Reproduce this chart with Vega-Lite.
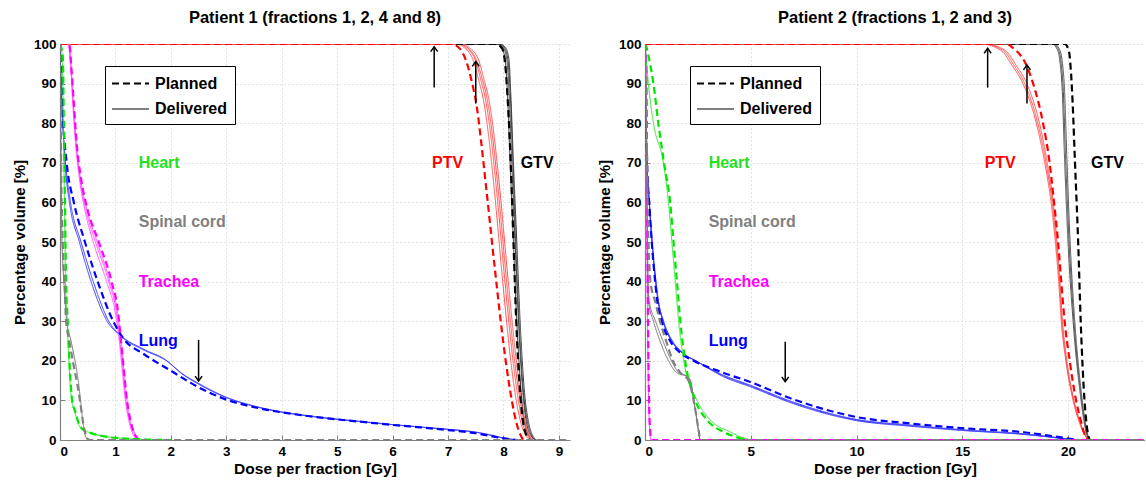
{
"$schema": "https://vega.github.io/schema/vega-lite/v6.json",
"background": "white",
"padding": {"left": 12, "top": 9, "right": 0, "bottom": 0},
"autosize": {"type": "pad"},
"spacing": 27,
"config": {
  "font": "Liberation Sans",
  "view": {"stroke": null},
  "axis": {
    "labelFont": "Liberation Sans", "labelFontSize": 13.5, "labelFontWeight": "bold", "labelColor": "black",
    "titleFont": "Liberation Sans", "titleFontSize": 15.5, "titleFontWeight": "bold", "titleColor": "black",
    "grid": true, "gridColor": "#c8c8c8", "gridDash": [1, 3], "gridWidth": 1,
    "domainColor": "#808080", "domainWidth": 1.2, "tickColor": "#808080", "tickSize": -5, "labelPadding": 9
  },
  "axisY": {"titlePadding": 6, "titleFontSize": 15},
  "axisX": {"titlePadding": 4},
  "title": {"font": "Liberation Sans", "fontSize": 16.5, "fontWeight": "bold", "color": "black", "offset": 11, "anchor": "middle"},
  "legend": {
    "orient": "none", "legendX": 45, "legendY": 22, "direction": "vertical", "title": null,
    "strokeColor": "black", "fillColor": "white", "padding": 7,
    "symbolType": "M-2,0L2,0", "symbolSize": 342, "symbolStrokeColor": "black", "symbolOffset": 8,
    "labelFont": "Liberation Sans", "labelFontSize": 16, "labelFontWeight": "bold", "labelColor": "black",
    "labelOffset": 14, "rowPadding": 7
  }
},
"resolve": {"scale": {"color": "independent", "strokeDash": "independent", "strokeWidth": "independent"}},
"datasets": {
"curves": [
{"panel":1,"organ":"GTV","type":"Delivered","run":"a","dose":0,"vol":100},
{"panel":1,"organ":"GTV","type":"Delivered","run":"a","dose":7.9,"vol":100},
{"panel":1,"organ":"GTV","type":"Delivered","run":"a","dose":8.0,"vol":99},
{"panel":1,"organ":"GTV","type":"Delivered","run":"a","dose":8.06,"vol":96},
{"panel":1,"organ":"GTV","type":"Delivered","run":"a","dose":8.1,"vol":88},
{"panel":1,"organ":"GTV","type":"Delivered","run":"a","dose":8.15,"vol":70},
{"panel":1,"organ":"GTV","type":"Delivered","run":"a","dose":8.21,"vol":50},
{"panel":1,"organ":"GTV","type":"Delivered","run":"a","dose":8.27,"vol":30},
{"panel":1,"organ":"GTV","type":"Delivered","run":"a","dose":8.35,"vol":12},
{"panel":1,"organ":"GTV","type":"Delivered","run":"a","dose":8.42,"vol":4},
{"panel":1,"organ":"GTV","type":"Delivered","run":"a","dose":8.5,"vol":1},
{"panel":1,"organ":"GTV","type":"Delivered","run":"a","dose":8.56,"vol":0},
{"panel":1,"organ":"GTV","type":"Delivered","run":"b","dose":0,"vol":100},
{"panel":1,"organ":"GTV","type":"Delivered","run":"b","dose":7.94,"vol":100},
{"panel":1,"organ":"GTV","type":"Delivered","run":"b","dose":8.04,"vol":99},
{"panel":1,"organ":"GTV","type":"Delivered","run":"b","dose":8.1,"vol":96},
{"panel":1,"organ":"GTV","type":"Delivered","run":"b","dose":8.13,"vol":88},
{"panel":1,"organ":"GTV","type":"Delivered","run":"b","dose":8.18,"vol":70},
{"panel":1,"organ":"GTV","type":"Delivered","run":"b","dose":8.24,"vol":50},
{"panel":1,"organ":"GTV","type":"Delivered","run":"b","dose":8.3,"vol":30},
{"panel":1,"organ":"GTV","type":"Delivered","run":"b","dose":8.38,"vol":12},
{"panel":1,"organ":"GTV","type":"Delivered","run":"b","dose":8.46,"vol":4},
{"panel":1,"organ":"GTV","type":"Delivered","run":"b","dose":8.53,"vol":1},
{"panel":1,"organ":"GTV","type":"Delivered","run":"b","dose":8.6,"vol":0},
{"panel":1,"organ":"GTV","type":"Delivered","run":"c","dose":0,"vol":100},
{"panel":1,"organ":"GTV","type":"Delivered","run":"c","dose":7.87,"vol":100},
{"panel":1,"organ":"GTV","type":"Delivered","run":"c","dose":7.97,"vol":99},
{"panel":1,"organ":"GTV","type":"Delivered","run":"c","dose":8.03,"vol":96},
{"panel":1,"organ":"GTV","type":"Delivered","run":"c","dose":8.07,"vol":88},
{"panel":1,"organ":"GTV","type":"Delivered","run":"c","dose":8.12,"vol":70},
{"panel":1,"organ":"GTV","type":"Delivered","run":"c","dose":8.18,"vol":50},
{"panel":1,"organ":"GTV","type":"Delivered","run":"c","dose":8.24,"vol":30},
{"panel":1,"organ":"GTV","type":"Delivered","run":"c","dose":8.32,"vol":12},
{"panel":1,"organ":"GTV","type":"Delivered","run":"c","dose":8.39,"vol":4},
{"panel":1,"organ":"GTV","type":"Delivered","run":"c","dose":8.46,"vol":1},
{"panel":1,"organ":"GTV","type":"Delivered","run":"c","dose":8.52,"vol":0},
{"panel":1,"organ":"GTV","type":"Delivered","run":"d","dose":0,"vol":100},
{"panel":1,"organ":"GTV","type":"Delivered","run":"d","dose":7.92,"vol":100},
{"panel":1,"organ":"GTV","type":"Delivered","run":"d","dose":8.02,"vol":99},
{"panel":1,"organ":"GTV","type":"Delivered","run":"d","dose":8.08,"vol":96},
{"panel":1,"organ":"GTV","type":"Delivered","run":"d","dose":8.12,"vol":88},
{"panel":1,"organ":"GTV","type":"Delivered","run":"d","dose":8.17,"vol":70},
{"panel":1,"organ":"GTV","type":"Delivered","run":"d","dose":8.22,"vol":50},
{"panel":1,"organ":"GTV","type":"Delivered","run":"d","dose":8.28,"vol":30},
{"panel":1,"organ":"GTV","type":"Delivered","run":"d","dose":8.36,"vol":12},
{"panel":1,"organ":"GTV","type":"Delivered","run":"d","dose":8.44,"vol":4},
{"panel":1,"organ":"GTV","type":"Delivered","run":"d","dose":8.51,"vol":1},
{"panel":1,"organ":"GTV","type":"Delivered","run":"d","dose":8.58,"vol":0},
{"panel":1,"organ":"GTV","type":"Planned","run":"p","dose":0,"vol":100},
{"panel":1,"organ":"GTV","type":"Planned","run":"p","dose":7.85,"vol":100},
{"panel":1,"organ":"GTV","type":"Planned","run":"p","dose":7.97,"vol":99},
{"panel":1,"organ":"GTV","type":"Planned","run":"p","dose":8.03,"vol":95},
{"panel":1,"organ":"GTV","type":"Planned","run":"p","dose":8.08,"vol":85},
{"panel":1,"organ":"GTV","type":"Planned","run":"p","dose":8.13,"vol":70},
{"panel":1,"organ":"GTV","type":"Planned","run":"p","dose":8.18,"vol":50},
{"panel":1,"organ":"GTV","type":"Planned","run":"p","dose":8.23,"vol":30},
{"panel":1,"organ":"GTV","type":"Planned","run":"p","dose":8.3,"vol":12},
{"panel":1,"organ":"GTV","type":"Planned","run":"p","dose":8.36,"vol":4},
{"panel":1,"organ":"GTV","type":"Planned","run":"p","dose":8.42,"vol":1},
{"panel":1,"organ":"GTV","type":"Planned","run":"p","dose":8.47,"vol":0},
{"panel":1,"organ":"Lung","type":"Delivered","run":"a","dose":0,"vol":100},
{"panel":1,"organ":"Lung","type":"Delivered","run":"a","dose":0.02,"vol":90},
{"panel":1,"organ":"Lung","type":"Delivered","run":"a","dose":0.05,"vol":80},
{"panel":1,"organ":"Lung","type":"Delivered","run":"a","dose":0.09,"vol":70},
{"panel":1,"organ":"Lung","type":"Delivered","run":"a","dose":0.17,"vol":60},
{"panel":1,"organ":"Lung","type":"Delivered","run":"a","dose":0.35,"vol":50},
{"panel":1,"organ":"Lung","type":"Delivered","run":"a","dose":0.56,"vol":40},
{"panel":1,"organ":"Lung","type":"Delivered","run":"a","dose":0.85,"vol":30},
{"panel":1,"organ":"Lung","type":"Delivered","run":"a","dose":1.1,"vol":26.3},
{"panel":1,"organ":"Lung","type":"Delivered","run":"a","dose":1.5,"vol":23},
{"panel":1,"organ":"Lung","type":"Delivered","run":"a","dose":1.9,"vol":20.3},
{"panel":1,"organ":"Lung","type":"Delivered","run":"a","dose":2.2,"vol":16.8},
{"panel":1,"organ":"Lung","type":"Delivered","run":"a","dose":2.5,"vol":14.3},
{"panel":1,"organ":"Lung","type":"Delivered","run":"a","dose":3.0,"vol":10.8},
{"panel":1,"organ":"Lung","type":"Delivered","run":"a","dose":3.5,"vol":8.6},
{"panel":1,"organ":"Lung","type":"Delivered","run":"a","dose":4.0,"vol":7.1},
{"panel":1,"organ":"Lung","type":"Delivered","run":"a","dose":4.5,"vol":6.1},
{"panel":1,"organ":"Lung","type":"Delivered","run":"a","dose":5.0,"vol":5.3},
{"panel":1,"organ":"Lung","type":"Delivered","run":"a","dose":5.5,"vol":4.6},
{"panel":1,"organ":"Lung","type":"Delivered","run":"a","dose":6.0,"vol":3.9},
{"panel":1,"organ":"Lung","type":"Delivered","run":"a","dose":6.5,"vol":3.3},
{"panel":1,"organ":"Lung","type":"Delivered","run":"a","dose":7.0,"vol":2.7},
{"panel":1,"organ":"Lung","type":"Delivered","run":"a","dose":7.5,"vol":2.0},
{"panel":1,"organ":"Lung","type":"Delivered","run":"a","dose":7.8,"vol":1.2},
{"panel":1,"organ":"Lung","type":"Delivered","run":"a","dose":8.0,"vol":0.5},
{"panel":1,"organ":"Lung","type":"Delivered","run":"a","dose":8.2,"vol":0.1},
{"panel":1,"organ":"Lung","type":"Delivered","run":"a","dose":8.3,"vol":0},
{"panel":1,"organ":"Lung","type":"Delivered","run":"b","dose":0,"vol":100},
{"panel":1,"organ":"Lung","type":"Delivered","run":"b","dose":0.02,"vol":90},
{"panel":1,"organ":"Lung","type":"Delivered","run":"b","dose":0.05,"vol":80},
{"panel":1,"organ":"Lung","type":"Delivered","run":"b","dose":0.1,"vol":70},
{"panel":1,"organ":"Lung","type":"Delivered","run":"b","dose":0.19,"vol":60},
{"panel":1,"organ":"Lung","type":"Delivered","run":"b","dose":0.38,"vol":50},
{"panel":1,"organ":"Lung","type":"Delivered","run":"b","dose":0.6,"vol":40},
{"panel":1,"organ":"Lung","type":"Delivered","run":"b","dose":0.88,"vol":30},
{"panel":1,"organ":"Lung","type":"Delivered","run":"b","dose":1.12,"vol":26},
{"panel":1,"organ":"Lung","type":"Delivered","run":"b","dose":1.5,"vol":22.8},
{"panel":1,"organ":"Lung","type":"Delivered","run":"b","dose":1.92,"vol":20},
{"panel":1,"organ":"Lung","type":"Delivered","run":"b","dose":2.22,"vol":16.5},
{"panel":1,"organ":"Lung","type":"Delivered","run":"b","dose":2.5,"vol":14.1},
{"panel":1,"organ":"Lung","type":"Delivered","run":"b","dose":3.0,"vol":10.7},
{"panel":1,"organ":"Lung","type":"Delivered","run":"b","dose":3.5,"vol":8.5},
{"panel":1,"organ":"Lung","type":"Delivered","run":"b","dose":4.0,"vol":7.0},
{"panel":1,"organ":"Lung","type":"Delivered","run":"b","dose":4.5,"vol":6.0},
{"panel":1,"organ":"Lung","type":"Delivered","run":"b","dose":5.0,"vol":5.2},
{"panel":1,"organ":"Lung","type":"Delivered","run":"b","dose":5.5,"vol":4.5},
{"panel":1,"organ":"Lung","type":"Delivered","run":"b","dose":6.0,"vol":3.85},
{"panel":1,"organ":"Lung","type":"Delivered","run":"b","dose":6.5,"vol":3.25},
{"panel":1,"organ":"Lung","type":"Delivered","run":"b","dose":7.0,"vol":2.65},
{"panel":1,"organ":"Lung","type":"Delivered","run":"b","dose":7.5,"vol":1.95},
{"panel":1,"organ":"Lung","type":"Delivered","run":"b","dose":7.8,"vol":1.1},
{"panel":1,"organ":"Lung","type":"Delivered","run":"b","dose":8.0,"vol":0.45},
{"panel":1,"organ":"Lung","type":"Delivered","run":"b","dose":8.2,"vol":0.1},
{"panel":1,"organ":"Lung","type":"Delivered","run":"b","dose":8.3,"vol":0},
{"panel":1,"organ":"Lung","type":"Planned","run":"p","dose":0,"vol":100},
{"panel":1,"organ":"Lung","type":"Planned","run":"p","dose":0.03,"vol":90},
{"panel":1,"organ":"Lung","type":"Planned","run":"p","dose":0.06,"vol":80},
{"panel":1,"organ":"Lung","type":"Planned","run":"p","dose":0.12,"vol":70},
{"panel":1,"organ":"Lung","type":"Planned","run":"p","dose":0.25,"vol":60},
{"panel":1,"organ":"Lung","type":"Planned","run":"p","dose":0.45,"vol":50},
{"panel":1,"organ":"Lung","type":"Planned","run":"p","dose":0.68,"vol":40},
{"panel":1,"organ":"Lung","type":"Planned","run":"p","dose":0.96,"vol":30},
{"panel":1,"organ":"Lung","type":"Planned","run":"p","dose":1.15,"vol":25.5},
{"panel":1,"organ":"Lung","type":"Planned","run":"p","dose":1.5,"vol":21.8},
{"panel":1,"organ":"Lung","type":"Planned","run":"p","dose":2.0,"vol":17.5},
{"panel":1,"organ":"Lung","type":"Planned","run":"p","dose":2.5,"vol":13.3},
{"panel":1,"organ":"Lung","type":"Planned","run":"p","dose":3.0,"vol":10.2},
{"panel":1,"organ":"Lung","type":"Planned","run":"p","dose":3.5,"vol":8.3},
{"panel":1,"organ":"Lung","type":"Planned","run":"p","dose":4.0,"vol":7.0},
{"panel":1,"organ":"Lung","type":"Planned","run":"p","dose":4.5,"vol":6.0},
{"panel":1,"organ":"Lung","type":"Planned","run":"p","dose":5.0,"vol":5.2},
{"panel":1,"organ":"Lung","type":"Planned","run":"p","dose":5.5,"vol":4.5},
{"panel":1,"organ":"Lung","type":"Planned","run":"p","dose":6.0,"vol":3.8},
{"panel":1,"organ":"Lung","type":"Planned","run":"p","dose":6.5,"vol":3.2},
{"panel":1,"organ":"Lung","type":"Planned","run":"p","dose":7.0,"vol":2.5},
{"panel":1,"organ":"Lung","type":"Planned","run":"p","dose":7.5,"vol":1.7},
{"panel":1,"organ":"Lung","type":"Planned","run":"p","dose":7.8,"vol":0.9},
{"panel":1,"organ":"Lung","type":"Planned","run":"p","dose":8.0,"vol":0.4},
{"panel":1,"organ":"Lung","type":"Planned","run":"p","dose":8.25,"vol":0},
{"panel":1,"organ":"Trachea","type":"Delivered","run":"a","dose":0,"vol":100},
{"panel":1,"organ":"Trachea","type":"Delivered","run":"a","dose":0.15,"vol":100},
{"panel":1,"organ":"Trachea","type":"Delivered","run":"a","dose":0.19,"vol":95},
{"panel":1,"organ":"Trachea","type":"Delivered","run":"a","dose":0.24,"vol":85},
{"panel":1,"organ":"Trachea","type":"Delivered","run":"a","dose":0.29,"vol":75},
{"panel":1,"organ":"Trachea","type":"Delivered","run":"a","dose":0.36,"vol":66},
{"panel":1,"organ":"Trachea","type":"Delivered","run":"a","dose":0.47,"vol":58},
{"panel":1,"organ":"Trachea","type":"Delivered","run":"a","dose":0.64,"vol":50},
{"panel":1,"organ":"Trachea","type":"Delivered","run":"a","dose":0.88,"vol":40},
{"panel":1,"organ":"Trachea","type":"Delivered","run":"a","dose":1.02,"vol":32},
{"panel":1,"organ":"Trachea","type":"Delivered","run":"a","dose":1.08,"vol":25},
{"panel":1,"organ":"Trachea","type":"Delivered","run":"a","dose":1.13,"vol":18},
{"panel":1,"organ":"Trachea","type":"Delivered","run":"a","dose":1.18,"vol":11},
{"panel":1,"organ":"Trachea","type":"Delivered","run":"a","dose":1.25,"vol":5},
{"panel":1,"organ":"Trachea","type":"Delivered","run":"a","dose":1.32,"vol":2},
{"panel":1,"organ":"Trachea","type":"Delivered","run":"a","dose":1.42,"vol":0},
{"panel":1,"organ":"Trachea","type":"Delivered","run":"b","dose":0,"vol":100},
{"panel":1,"organ":"Trachea","type":"Delivered","run":"b","dose":0.15,"vol":100},
{"panel":1,"organ":"Trachea","type":"Delivered","run":"b","dose":0.19,"vol":95},
{"panel":1,"organ":"Trachea","type":"Delivered","run":"b","dose":0.23,"vol":85},
{"panel":1,"organ":"Trachea","type":"Delivered","run":"b","dose":0.28,"vol":75},
{"panel":1,"organ":"Trachea","type":"Delivered","run":"b","dose":0.35,"vol":66},
{"panel":1,"organ":"Trachea","type":"Delivered","run":"b","dose":0.45,"vol":58},
{"panel":1,"organ":"Trachea","type":"Delivered","run":"b","dose":0.6,"vol":50},
{"panel":1,"organ":"Trachea","type":"Delivered","run":"b","dose":0.84,"vol":40},
{"panel":1,"organ":"Trachea","type":"Delivered","run":"b","dose":1.0,"vol":32},
{"panel":1,"organ":"Trachea","type":"Delivered","run":"b","dose":1.07,"vol":25},
{"panel":1,"organ":"Trachea","type":"Delivered","run":"b","dose":1.12,"vol":18},
{"panel":1,"organ":"Trachea","type":"Delivered","run":"b","dose":1.17,"vol":11},
{"panel":1,"organ":"Trachea","type":"Delivered","run":"b","dose":1.24,"vol":5},
{"panel":1,"organ":"Trachea","type":"Delivered","run":"b","dose":1.3,"vol":2},
{"panel":1,"organ":"Trachea","type":"Delivered","run":"b","dose":1.38,"vol":0},
{"panel":1,"organ":"Trachea","type":"Delivered","run":"c","dose":0,"vol":100},
{"panel":1,"organ":"Trachea","type":"Delivered","run":"c","dose":0.16,"vol":100},
{"panel":1,"organ":"Trachea","type":"Delivered","run":"c","dose":0.2,"vol":95},
{"panel":1,"organ":"Trachea","type":"Delivered","run":"c","dose":0.24,"vol":85},
{"panel":1,"organ":"Trachea","type":"Delivered","run":"c","dose":0.29,"vol":75},
{"panel":1,"organ":"Trachea","type":"Delivered","run":"c","dose":0.37,"vol":66},
{"panel":1,"organ":"Trachea","type":"Delivered","run":"c","dose":0.49,"vol":58},
{"panel":1,"organ":"Trachea","type":"Delivered","run":"c","dose":0.67,"vol":50},
{"panel":1,"organ":"Trachea","type":"Delivered","run":"c","dose":0.9,"vol":40},
{"panel":1,"organ":"Trachea","type":"Delivered","run":"c","dose":1.04,"vol":32},
{"panel":1,"organ":"Trachea","type":"Delivered","run":"c","dose":1.1,"vol":25},
{"panel":1,"organ":"Trachea","type":"Delivered","run":"c","dose":1.15,"vol":18},
{"panel":1,"organ":"Trachea","type":"Delivered","run":"c","dose":1.2,"vol":11},
{"panel":1,"organ":"Trachea","type":"Delivered","run":"c","dose":1.27,"vol":5},
{"panel":1,"organ":"Trachea","type":"Delivered","run":"c","dose":1.34,"vol":2},
{"panel":1,"organ":"Trachea","type":"Delivered","run":"c","dose":1.44,"vol":0},
{"panel":1,"organ":"Trachea","type":"Planned","run":"p","dose":0,"vol":100},
{"panel":1,"organ":"Trachea","type":"Planned","run":"p","dose":0.17,"vol":100},
{"panel":1,"organ":"Trachea","type":"Planned","run":"p","dose":0.2,"vol":95},
{"panel":1,"organ":"Trachea","type":"Planned","run":"p","dose":0.25,"vol":85},
{"panel":1,"organ":"Trachea","type":"Planned","run":"p","dose":0.3,"vol":75},
{"panel":1,"organ":"Trachea","type":"Planned","run":"p","dose":0.38,"vol":66},
{"panel":1,"organ":"Trachea","type":"Planned","run":"p","dose":0.5,"vol":58},
{"panel":1,"organ":"Trachea","type":"Planned","run":"p","dose":0.7,"vol":50},
{"panel":1,"organ":"Trachea","type":"Planned","run":"p","dose":0.93,"vol":40},
{"panel":1,"organ":"Trachea","type":"Planned","run":"p","dose":1.05,"vol":32},
{"panel":1,"organ":"Trachea","type":"Planned","run":"p","dose":1.1,"vol":25},
{"panel":1,"organ":"Trachea","type":"Planned","run":"p","dose":1.15,"vol":18},
{"panel":1,"organ":"Trachea","type":"Planned","run":"p","dose":1.2,"vol":11},
{"panel":1,"organ":"Trachea","type":"Planned","run":"p","dose":1.27,"vol":5},
{"panel":1,"organ":"Trachea","type":"Planned","run":"p","dose":1.33,"vol":2},
{"panel":1,"organ":"Trachea","type":"Planned","run":"p","dose":1.42,"vol":0},
{"panel":1,"organ":"Heart","type":"Delivered","run":"a","dose":0,"vol":100},
{"panel":1,"organ":"Heart","type":"Delivered","run":"a","dose":0.04,"vol":97},
{"panel":1,"organ":"Heart","type":"Delivered","run":"a","dose":0.06,"vol":80},
{"panel":1,"organ":"Heart","type":"Delivered","run":"a","dose":0.08,"vol":60},
{"panel":1,"organ":"Heart","type":"Delivered","run":"a","dose":0.1,"vol":40},
{"panel":1,"organ":"Heart","type":"Delivered","run":"a","dose":0.13,"vol":30},
{"panel":1,"organ":"Heart","type":"Delivered","run":"a","dose":0.16,"vol":20},
{"panel":1,"organ":"Heart","type":"Delivered","run":"a","dose":0.21,"vol":10},
{"panel":1,"organ":"Heart","type":"Delivered","run":"a","dose":0.27,"vol":7},
{"panel":1,"organ":"Heart","type":"Delivered","run":"a","dose":0.32,"vol":4.5},
{"panel":1,"organ":"Heart","type":"Delivered","run":"a","dose":0.39,"vol":2.8},
{"panel":1,"organ":"Heart","type":"Delivered","run":"a","dose":0.55,"vol":1.8},
{"panel":1,"organ":"Heart","type":"Delivered","run":"a","dose":0.8,"vol":0.9},
{"panel":1,"organ":"Heart","type":"Delivered","run":"a","dose":1.2,"vol":0.35},
{"panel":1,"organ":"Heart","type":"Delivered","run":"a","dose":1.6,"vol":0.1},
{"panel":1,"organ":"Heart","type":"Delivered","run":"a","dose":2.0,"vol":0},
{"panel":1,"organ":"Heart","type":"Planned","run":"p","dose":0,"vol":100},
{"panel":1,"organ":"Heart","type":"Planned","run":"p","dose":0.05,"vol":97},
{"panel":1,"organ":"Heart","type":"Planned","run":"p","dose":0.07,"vol":80},
{"panel":1,"organ":"Heart","type":"Planned","run":"p","dose":0.09,"vol":60},
{"panel":1,"organ":"Heart","type":"Planned","run":"p","dose":0.11,"vol":40},
{"panel":1,"organ":"Heart","type":"Planned","run":"p","dose":0.14,"vol":30},
{"panel":1,"organ":"Heart","type":"Planned","run":"p","dose":0.17,"vol":20},
{"panel":1,"organ":"Heart","type":"Planned","run":"p","dose":0.22,"vol":10},
{"panel":1,"organ":"Heart","type":"Planned","run":"p","dose":0.28,"vol":7},
{"panel":1,"organ":"Heart","type":"Planned","run":"p","dose":0.33,"vol":4.5},
{"panel":1,"organ":"Heart","type":"Planned","run":"p","dose":0.4,"vol":2.8},
{"panel":1,"organ":"Heart","type":"Planned","run":"p","dose":0.55,"vol":1.8},
{"panel":1,"organ":"Heart","type":"Planned","run":"p","dose":0.8,"vol":0.9},
{"panel":1,"organ":"Heart","type":"Planned","run":"p","dose":1.2,"vol":0.35},
{"panel":1,"organ":"Heart","type":"Planned","run":"p","dose":1.6,"vol":0.1},
{"panel":1,"organ":"Heart","type":"Planned","run":"p","dose":2.0,"vol":0},
{"panel":1,"organ":"PTV","type":"Delivered","run":"a","dose":0,"vol":100},
{"panel":1,"organ":"PTV","type":"Delivered","run":"a","dose":7.15,"vol":100},
{"panel":1,"organ":"PTV","type":"Delivered","run":"a","dose":7.3,"vol":99},
{"panel":1,"organ":"PTV","type":"Delivered","run":"a","dose":7.45,"vol":96},
{"panel":1,"organ":"PTV","type":"Delivered","run":"a","dose":7.55,"vol":91},
{"panel":1,"organ":"PTV","type":"Delivered","run":"a","dose":7.65,"vol":85},
{"panel":1,"organ":"PTV","type":"Delivered","run":"a","dose":7.73,"vol":77},
{"panel":1,"organ":"PTV","type":"Delivered","run":"a","dose":7.8,"vol":68},
{"panel":1,"organ":"PTV","type":"Delivered","run":"a","dose":7.87,"vol":58},
{"panel":1,"organ":"PTV","type":"Delivered","run":"a","dose":7.94,"vol":47},
{"panel":1,"organ":"PTV","type":"Delivered","run":"a","dose":8.0,"vol":38},
{"panel":1,"organ":"PTV","type":"Delivered","run":"a","dose":8.07,"vol":28},
{"panel":1,"organ":"PTV","type":"Delivered","run":"a","dose":8.14,"vol":19},
{"panel":1,"organ":"PTV","type":"Delivered","run":"a","dose":8.23,"vol":10},
{"panel":1,"organ":"PTV","type":"Delivered","run":"a","dose":8.32,"vol":4},
{"panel":1,"organ":"PTV","type":"Delivered","run":"a","dose":8.4,"vol":1.2},
{"panel":1,"organ":"PTV","type":"Delivered","run":"a","dose":8.48,"vol":0},
{"panel":1,"organ":"PTV","type":"Delivered","run":"b","dose":0,"vol":100},
{"panel":1,"organ":"PTV","type":"Delivered","run":"b","dose":7.2,"vol":100},
{"panel":1,"organ":"PTV","type":"Delivered","run":"b","dose":7.36,"vol":99},
{"panel":1,"organ":"PTV","type":"Delivered","run":"b","dose":7.51,"vol":96},
{"panel":1,"organ":"PTV","type":"Delivered","run":"b","dose":7.62,"vol":91},
{"panel":1,"organ":"PTV","type":"Delivered","run":"b","dose":7.72,"vol":85},
{"panel":1,"organ":"PTV","type":"Delivered","run":"b","dose":7.8,"vol":77},
{"panel":1,"organ":"PTV","type":"Delivered","run":"b","dose":7.87,"vol":68},
{"panel":1,"organ":"PTV","type":"Delivered","run":"b","dose":7.94,"vol":58},
{"panel":1,"organ":"PTV","type":"Delivered","run":"b","dose":8.01,"vol":47},
{"panel":1,"organ":"PTV","type":"Delivered","run":"b","dose":8.07,"vol":38},
{"panel":1,"organ":"PTV","type":"Delivered","run":"b","dose":8.14,"vol":28},
{"panel":1,"organ":"PTV","type":"Delivered","run":"b","dose":8.21,"vol":19},
{"panel":1,"organ":"PTV","type":"Delivered","run":"b","dose":8.3,"vol":10},
{"panel":1,"organ":"PTV","type":"Delivered","run":"b","dose":8.38,"vol":4},
{"panel":1,"organ":"PTV","type":"Delivered","run":"b","dose":8.45,"vol":1.2},
{"panel":1,"organ":"PTV","type":"Delivered","run":"b","dose":8.52,"vol":0},
{"panel":1,"organ":"PTV","type":"Delivered","run":"c","dose":0,"vol":100},
{"panel":1,"organ":"PTV","type":"Delivered","run":"c","dose":7.22,"vol":100},
{"panel":1,"organ":"PTV","type":"Delivered","run":"c","dose":7.39,"vol":99},
{"panel":1,"organ":"PTV","type":"Delivered","run":"c","dose":7.55,"vol":96},
{"panel":1,"organ":"PTV","type":"Delivered","run":"c","dose":7.65,"vol":91},
{"panel":1,"organ":"PTV","type":"Delivered","run":"c","dose":7.75,"vol":85},
{"panel":1,"organ":"PTV","type":"Delivered","run":"c","dose":7.83,"vol":77},
{"panel":1,"organ":"PTV","type":"Delivered","run":"c","dose":7.9,"vol":68},
{"panel":1,"organ":"PTV","type":"Delivered","run":"c","dose":7.97,"vol":58},
{"panel":1,"organ":"PTV","type":"Delivered","run":"c","dose":8.04,"vol":47},
{"panel":1,"organ":"PTV","type":"Delivered","run":"c","dose":8.1,"vol":38},
{"panel":1,"organ":"PTV","type":"Delivered","run":"c","dose":8.17,"vol":28},
{"panel":1,"organ":"PTV","type":"Delivered","run":"c","dose":8.24,"vol":19},
{"panel":1,"organ":"PTV","type":"Delivered","run":"c","dose":8.32,"vol":10},
{"panel":1,"organ":"PTV","type":"Delivered","run":"c","dose":8.4,"vol":4},
{"panel":1,"organ":"PTV","type":"Delivered","run":"c","dose":8.47,"vol":1.2},
{"panel":1,"organ":"PTV","type":"Delivered","run":"c","dose":8.54,"vol":0},
{"panel":1,"organ":"PTV","type":"Delivered","run":"d","dose":0,"vol":100},
{"panel":1,"organ":"PTV","type":"Delivered","run":"d","dose":7.18,"vol":100},
{"panel":1,"organ":"PTV","type":"Delivered","run":"d","dose":7.33,"vol":99},
{"panel":1,"organ":"PTV","type":"Delivered","run":"d","dose":7.49,"vol":96},
{"panel":1,"organ":"PTV","type":"Delivered","run":"d","dose":7.59,"vol":91},
{"panel":1,"organ":"PTV","type":"Delivered","run":"d","dose":7.69,"vol":85},
{"panel":1,"organ":"PTV","type":"Delivered","run":"d","dose":7.77,"vol":77},
{"panel":1,"organ":"PTV","type":"Delivered","run":"d","dose":7.84,"vol":68},
{"panel":1,"organ":"PTV","type":"Delivered","run":"d","dose":7.91,"vol":58},
{"panel":1,"organ":"PTV","type":"Delivered","run":"d","dose":7.98,"vol":47},
{"panel":1,"organ":"PTV","type":"Delivered","run":"d","dose":8.04,"vol":38},
{"panel":1,"organ":"PTV","type":"Delivered","run":"d","dose":8.11,"vol":28},
{"panel":1,"organ":"PTV","type":"Delivered","run":"d","dose":8.18,"vol":19},
{"panel":1,"organ":"PTV","type":"Delivered","run":"d","dose":8.27,"vol":10},
{"panel":1,"organ":"PTV","type":"Delivered","run":"d","dose":8.35,"vol":4},
{"panel":1,"organ":"PTV","type":"Delivered","run":"d","dose":8.43,"vol":1.2},
{"panel":1,"organ":"PTV","type":"Delivered","run":"d","dose":8.5,"vol":0},
{"panel":1,"organ":"PTV","type":"Planned","run":"p","dose":0,"vol":100},
{"panel":1,"organ":"PTV","type":"Planned","run":"p","dose":7.05,"vol":100},
{"panel":1,"organ":"PTV","type":"Planned","run":"p","dose":7.2,"vol":99},
{"panel":1,"organ":"PTV","type":"Planned","run":"p","dose":7.32,"vol":96},
{"panel":1,"organ":"PTV","type":"Planned","run":"p","dose":7.42,"vol":91},
{"panel":1,"organ":"PTV","type":"Planned","run":"p","dose":7.52,"vol":84},
{"panel":1,"organ":"PTV","type":"Planned","run":"p","dose":7.6,"vol":75},
{"panel":1,"organ":"PTV","type":"Planned","run":"p","dose":7.67,"vol":66},
{"panel":1,"organ":"PTV","type":"Planned","run":"p","dose":7.74,"vol":57},
{"panel":1,"organ":"PTV","type":"Planned","run":"p","dose":7.8,"vol":49},
{"panel":1,"organ":"PTV","type":"Planned","run":"p","dose":7.87,"vol":40},
{"panel":1,"organ":"PTV","type":"Planned","run":"p","dose":7.95,"vol":30},
{"panel":1,"organ":"PTV","type":"Planned","run":"p","dose":8.04,"vol":20},
{"panel":1,"organ":"PTV","type":"Planned","run":"p","dose":8.15,"vol":10},
{"panel":1,"organ":"PTV","type":"Planned","run":"p","dose":8.24,"vol":4},
{"panel":1,"organ":"PTV","type":"Planned","run":"p","dose":8.3,"vol":1.5},
{"panel":1,"organ":"PTV","type":"Planned","run":"p","dose":8.36,"vol":0},
{"panel":1,"organ":"Spinal cord","type":"Delivered","run":"a","dose":0,"vol":100},
{"panel":1,"organ":"Spinal cord","type":"Delivered","run":"a","dose":0.01,"vol":90},
{"panel":1,"organ":"Spinal cord","type":"Delivered","run":"a","dose":0.02,"vol":70},
{"panel":1,"organ":"Spinal cord","type":"Delivered","run":"a","dose":0.03,"vol":55},
{"panel":1,"organ":"Spinal cord","type":"Delivered","run":"a","dose":0.05,"vol":45},
{"panel":1,"organ":"Spinal cord","type":"Delivered","run":"a","dose":0.07,"vol":40},
{"panel":1,"organ":"Spinal cord","type":"Delivered","run":"a","dose":0.12,"vol":30},
{"panel":1,"organ":"Spinal cord","type":"Delivered","run":"a","dose":0.2,"vol":25},
{"panel":1,"organ":"Spinal cord","type":"Delivered","run":"a","dose":0.27,"vol":20},
{"panel":1,"organ":"Spinal cord","type":"Delivered","run":"a","dose":0.33,"vol":15},
{"panel":1,"organ":"Spinal cord","type":"Delivered","run":"a","dose":0.37,"vol":10},
{"panel":1,"organ":"Spinal cord","type":"Delivered","run":"a","dose":0.41,"vol":5},
{"panel":1,"organ":"Spinal cord","type":"Delivered","run":"a","dose":0.44,"vol":2},
{"panel":1,"organ":"Spinal cord","type":"Delivered","run":"a","dose":0.5,"vol":0},
{"panel":1,"organ":"Spinal cord","type":"Planned","run":"p","dose":0,"vol":100},
{"panel":1,"organ":"Spinal cord","type":"Planned","run":"p","dose":0.01,"vol":90},
{"panel":1,"organ":"Spinal cord","type":"Planned","run":"p","dose":0.02,"vol":70},
{"panel":1,"organ":"Spinal cord","type":"Planned","run":"p","dose":0.04,"vol":55},
{"panel":1,"organ":"Spinal cord","type":"Planned","run":"p","dose":0.06,"vol":45},
{"panel":1,"organ":"Spinal cord","type":"Planned","run":"p","dose":0.08,"vol":40},
{"panel":1,"organ":"Spinal cord","type":"Planned","run":"p","dose":0.11,"vol":30},
{"panel":1,"organ":"Spinal cord","type":"Planned","run":"p","dose":0.17,"vol":25},
{"panel":1,"organ":"Spinal cord","type":"Planned","run":"p","dose":0.23,"vol":20},
{"panel":1,"organ":"Spinal cord","type":"Planned","run":"p","dose":0.3,"vol":15},
{"panel":1,"organ":"Spinal cord","type":"Planned","run":"p","dose":0.36,"vol":10},
{"panel":1,"organ":"Spinal cord","type":"Planned","run":"p","dose":0.41,"vol":5},
{"panel":1,"organ":"Spinal cord","type":"Planned","run":"p","dose":0.45,"vol":2},
{"panel":1,"organ":"Spinal cord","type":"Planned","run":"p","dose":0.53,"vol":0},
{"panel":1,"organ":"Spinal cord","type":"Planned","run":"p","dose":9.2,"vol":0},
{"panel":2,"organ":"GTV","type":"Delivered","run":"a","dose":0,"vol":100},
{"panel":2,"organ":"GTV","type":"Delivered","run":"a","dose":19.3,"vol":100},
{"panel":2,"organ":"GTV","type":"Delivered","run":"a","dose":19.55,"vol":98.5},
{"panel":2,"organ":"GTV","type":"Delivered","run":"a","dose":19.68,"vol":95},
{"panel":2,"organ":"GTV","type":"Delivered","run":"a","dose":19.78,"vol":88},
{"panel":2,"organ":"GTV","type":"Delivered","run":"a","dose":19.88,"vol":72},
{"panel":2,"organ":"GTV","type":"Delivered","run":"a","dose":20.05,"vol":50},
{"panel":2,"organ":"GTV","type":"Delivered","run":"a","dose":20.28,"vol":30},
{"panel":2,"organ":"GTV","type":"Delivered","run":"a","dose":20.6,"vol":12},
{"panel":2,"organ":"GTV","type":"Delivered","run":"a","dose":20.8,"vol":4},
{"panel":2,"organ":"GTV","type":"Delivered","run":"a","dose":20.92,"vol":1},
{"panel":2,"organ":"GTV","type":"Delivered","run":"a","dose":21.03,"vol":0},
{"panel":2,"organ":"GTV","type":"Delivered","run":"b","dose":0,"vol":100},
{"panel":2,"organ":"GTV","type":"Delivered","run":"b","dose":19.36,"vol":100},
{"panel":2,"organ":"GTV","type":"Delivered","run":"b","dose":19.61,"vol":98.5},
{"panel":2,"organ":"GTV","type":"Delivered","run":"b","dose":19.74,"vol":95},
{"panel":2,"organ":"GTV","type":"Delivered","run":"b","dose":19.84,"vol":88},
{"panel":2,"organ":"GTV","type":"Delivered","run":"b","dose":19.94,"vol":72},
{"panel":2,"organ":"GTV","type":"Delivered","run":"b","dose":20.1,"vol":50},
{"panel":2,"organ":"GTV","type":"Delivered","run":"b","dose":20.32,"vol":30},
{"panel":2,"organ":"GTV","type":"Delivered","run":"b","dose":20.63,"vol":12},
{"panel":2,"organ":"GTV","type":"Delivered","run":"b","dose":20.83,"vol":4},
{"panel":2,"organ":"GTV","type":"Delivered","run":"b","dose":20.95,"vol":1},
{"panel":2,"organ":"GTV","type":"Delivered","run":"b","dose":21.06,"vol":0},
{"panel":2,"organ":"GTV","type":"Delivered","run":"c","dose":0,"vol":100},
{"panel":2,"organ":"GTV","type":"Delivered","run":"c","dose":19.25,"vol":100},
{"panel":2,"organ":"GTV","type":"Delivered","run":"c","dose":19.5,"vol":98.5},
{"panel":2,"organ":"GTV","type":"Delivered","run":"c","dose":19.63,"vol":95},
{"panel":2,"organ":"GTV","type":"Delivered","run":"c","dose":19.73,"vol":88},
{"panel":2,"organ":"GTV","type":"Delivered","run":"c","dose":19.83,"vol":72},
{"panel":2,"organ":"GTV","type":"Delivered","run":"c","dose":20.0,"vol":50},
{"panel":2,"organ":"GTV","type":"Delivered","run":"c","dose":20.24,"vol":30},
{"panel":2,"organ":"GTV","type":"Delivered","run":"c","dose":20.57,"vol":12},
{"panel":2,"organ":"GTV","type":"Delivered","run":"c","dose":20.78,"vol":4},
{"panel":2,"organ":"GTV","type":"Delivered","run":"c","dose":20.9,"vol":1},
{"panel":2,"organ":"GTV","type":"Delivered","run":"c","dose":21.0,"vol":0},
{"panel":2,"organ":"GTV","type":"Planned","run":"p","dose":0,"vol":100},
{"panel":2,"organ":"GTV","type":"Planned","run":"p","dose":19.85,"vol":100},
{"panel":2,"organ":"GTV","type":"Planned","run":"p","dose":20.05,"vol":98},
{"panel":2,"organ":"GTV","type":"Planned","run":"p","dose":20.15,"vol":92},
{"panel":2,"organ":"GTV","type":"Planned","run":"p","dose":20.22,"vol":85},
{"panel":2,"organ":"GTV","type":"Planned","run":"p","dose":20.33,"vol":70},
{"panel":2,"organ":"GTV","type":"Planned","run":"p","dose":20.48,"vol":50},
{"panel":2,"organ":"GTV","type":"Planned","run":"p","dose":20.6,"vol":30},
{"panel":2,"organ":"GTV","type":"Planned","run":"p","dose":20.78,"vol":10},
{"panel":2,"organ":"GTV","type":"Planned","run":"p","dose":20.9,"vol":3},
{"panel":2,"organ":"GTV","type":"Planned","run":"p","dose":21.03,"vol":0},
{"panel":2,"organ":"Lung","type":"Delivered","run":"a","dose":0,"vol":100},
{"panel":2,"organ":"Lung","type":"Delivered","run":"a","dose":0.03,"vol":90},
{"panel":2,"organ":"Lung","type":"Delivered","run":"a","dose":0.06,"vol":80},
{"panel":2,"organ":"Lung","type":"Delivered","run":"a","dose":0.1,"vol":70},
{"panel":2,"organ":"Lung","type":"Delivered","run":"a","dose":0.2,"vol":60},
{"panel":2,"organ":"Lung","type":"Delivered","run":"a","dose":0.33,"vol":50},
{"panel":2,"organ":"Lung","type":"Delivered","run":"a","dose":0.5,"vol":40},
{"panel":2,"organ":"Lung","type":"Delivered","run":"a","dose":0.62,"vol":35},
{"panel":2,"organ":"Lung","type":"Delivered","run":"a","dose":0.85,"vol":30},
{"panel":2,"organ":"Lung","type":"Delivered","run":"a","dose":1.25,"vol":25},
{"panel":2,"organ":"Lung","type":"Delivered","run":"a","dose":1.75,"vol":22},
{"panel":2,"organ":"Lung","type":"Delivered","run":"a","dose":2.4,"vol":20},
{"panel":2,"organ":"Lung","type":"Delivered","run":"a","dose":3.7,"vol":16.4},
{"panel":2,"organ":"Lung","type":"Delivered","run":"a","dose":5,"vol":13.8},
{"panel":2,"organ":"Lung","type":"Delivered","run":"a","dose":7,"vol":9.6},
{"panel":2,"organ":"Lung","type":"Delivered","run":"a","dose":10,"vol":5.2},
{"panel":2,"organ":"Lung","type":"Delivered","run":"a","dose":12.5,"vol":3.8},
{"panel":2,"organ":"Lung","type":"Delivered","run":"a","dose":15,"vol":2.6},
{"panel":2,"organ":"Lung","type":"Delivered","run":"a","dose":18,"vol":1.5},
{"panel":2,"organ":"Lung","type":"Delivered","run":"a","dose":19.5,"vol":0.6},
{"panel":2,"organ":"Lung","type":"Delivered","run":"a","dose":20.2,"vol":0.1},
{"panel":2,"organ":"Lung","type":"Delivered","run":"a","dose":20.5,"vol":0},
{"panel":2,"organ":"Lung","type":"Delivered","run":"b","dose":0,"vol":100},
{"panel":2,"organ":"Lung","type":"Delivered","run":"b","dose":0.03,"vol":90},
{"panel":2,"organ":"Lung","type":"Delivered","run":"b","dose":0.06,"vol":80},
{"panel":2,"organ":"Lung","type":"Delivered","run":"b","dose":0.1,"vol":70},
{"panel":2,"organ":"Lung","type":"Delivered","run":"b","dose":0.21,"vol":60},
{"panel":2,"organ":"Lung","type":"Delivered","run":"b","dose":0.34,"vol":50},
{"panel":2,"organ":"Lung","type":"Delivered","run":"b","dose":0.52,"vol":40},
{"panel":2,"organ":"Lung","type":"Delivered","run":"b","dose":0.64,"vol":35},
{"panel":2,"organ":"Lung","type":"Delivered","run":"b","dose":0.88,"vol":30},
{"panel":2,"organ":"Lung","type":"Delivered","run":"b","dose":1.3,"vol":25},
{"panel":2,"organ":"Lung","type":"Delivered","run":"b","dose":1.8,"vol":22},
{"panel":2,"organ":"Lung","type":"Delivered","run":"b","dose":2.5,"vol":19.7},
{"panel":2,"organ":"Lung","type":"Delivered","run":"b","dose":3.7,"vol":16},
{"panel":2,"organ":"Lung","type":"Delivered","run":"b","dose":5,"vol":13.4},
{"panel":2,"organ":"Lung","type":"Delivered","run":"b","dose":7,"vol":9.2},
{"panel":2,"organ":"Lung","type":"Delivered","run":"b","dose":10,"vol":4.9},
{"panel":2,"organ":"Lung","type":"Delivered","run":"b","dose":12.5,"vol":3.5},
{"panel":2,"organ":"Lung","type":"Delivered","run":"b","dose":15,"vol":2.4},
{"panel":2,"organ":"Lung","type":"Delivered","run":"b","dose":18,"vol":1.35},
{"panel":2,"organ":"Lung","type":"Delivered","run":"b","dose":19.5,"vol":0.5},
{"panel":2,"organ":"Lung","type":"Delivered","run":"b","dose":20.2,"vol":0.08},
{"panel":2,"organ":"Lung","type":"Delivered","run":"b","dose":20.5,"vol":0},
{"panel":2,"organ":"Lung","type":"Delivered","run":"c","dose":0,"vol":100},
{"panel":2,"organ":"Lung","type":"Delivered","run":"c","dose":0.03,"vol":90},
{"panel":2,"organ":"Lung","type":"Delivered","run":"c","dose":0.06,"vol":80},
{"panel":2,"organ":"Lung","type":"Delivered","run":"c","dose":0.1,"vol":70},
{"panel":2,"organ":"Lung","type":"Delivered","run":"c","dose":0.2,"vol":60},
{"panel":2,"organ":"Lung","type":"Delivered","run":"c","dose":0.33,"vol":50},
{"panel":2,"organ":"Lung","type":"Delivered","run":"c","dose":0.51,"vol":40},
{"panel":2,"organ":"Lung","type":"Delivered","run":"c","dose":0.63,"vol":35},
{"panel":2,"organ":"Lung","type":"Delivered","run":"c","dose":0.86,"vol":30},
{"panel":2,"organ":"Lung","type":"Delivered","run":"c","dose":1.27,"vol":25},
{"panel":2,"organ":"Lung","type":"Delivered","run":"c","dose":1.77,"vol":22},
{"panel":2,"organ":"Lung","type":"Delivered","run":"c","dose":2.45,"vol":19.85},
{"panel":2,"organ":"Lung","type":"Delivered","run":"c","dose":3.7,"vol":16.2},
{"panel":2,"organ":"Lung","type":"Delivered","run":"c","dose":5,"vol":13.6},
{"panel":2,"organ":"Lung","type":"Delivered","run":"c","dose":7,"vol":9.4},
{"panel":2,"organ":"Lung","type":"Delivered","run":"c","dose":10,"vol":5.05},
{"panel":2,"organ":"Lung","type":"Delivered","run":"c","dose":12.5,"vol":3.65},
{"panel":2,"organ":"Lung","type":"Delivered","run":"c","dose":15,"vol":2.5},
{"panel":2,"organ":"Lung","type":"Delivered","run":"c","dose":18,"vol":1.42},
{"panel":2,"organ":"Lung","type":"Delivered","run":"c","dose":19.5,"vol":0.55},
{"panel":2,"organ":"Lung","type":"Delivered","run":"c","dose":20.2,"vol":0.09},
{"panel":2,"organ":"Lung","type":"Delivered","run":"c","dose":20.5,"vol":0},
{"panel":2,"organ":"Lung","type":"Planned","run":"p","dose":0,"vol":100},
{"panel":2,"organ":"Lung","type":"Planned","run":"p","dose":0.03,"vol":90},
{"panel":2,"organ":"Lung","type":"Planned","run":"p","dose":0.06,"vol":80},
{"panel":2,"organ":"Lung","type":"Planned","run":"p","dose":0.1,"vol":70},
{"panel":2,"organ":"Lung","type":"Planned","run":"p","dose":0.2,"vol":60},
{"panel":2,"organ":"Lung","type":"Planned","run":"p","dose":0.32,"vol":50},
{"panel":2,"organ":"Lung","type":"Planned","run":"p","dose":0.48,"vol":40},
{"panel":2,"organ":"Lung","type":"Planned","run":"p","dose":0.58,"vol":35},
{"panel":2,"organ":"Lung","type":"Planned","run":"p","dose":0.79,"vol":30},
{"panel":2,"organ":"Lung","type":"Planned","run":"p","dose":1.19,"vol":25},
{"panel":2,"organ":"Lung","type":"Planned","run":"p","dose":1.67,"vol":22},
{"panel":2,"organ":"Lung","type":"Planned","run":"p","dose":2.3,"vol":20},
{"panel":2,"organ":"Lung","type":"Planned","run":"p","dose":3.7,"vol":17},
{"panel":2,"organ":"Lung","type":"Planned","run":"p","dose":5,"vol":14.6},
{"panel":2,"organ":"Lung","type":"Planned","run":"p","dose":7,"vol":10.3},
{"panel":2,"organ":"Lung","type":"Planned","run":"p","dose":10,"vol":5.8},
{"panel":2,"organ":"Lung","type":"Planned","run":"p","dose":12.5,"vol":4.2},
{"panel":2,"organ":"Lung","type":"Planned","run":"p","dose":15,"vol":3.0},
{"panel":2,"organ":"Lung","type":"Planned","run":"p","dose":18,"vol":1.9},
{"panel":2,"organ":"Lung","type":"Planned","run":"p","dose":19.5,"vol":0.8},
{"panel":2,"organ":"Lung","type":"Planned","run":"p","dose":20.2,"vol":0.2},
{"panel":2,"organ":"Lung","type":"Planned","run":"p","dose":20.5,"vol":0},
{"panel":2,"organ":"Trachea","type":"Delivered","run":"a","dose":0,"vol":100},
{"panel":2,"organ":"Trachea","type":"Delivered","run":"a","dose":0.04,"vol":97},
{"panel":2,"organ":"Trachea","type":"Delivered","run":"a","dose":0.08,"vol":60},
{"panel":2,"organ":"Trachea","type":"Delivered","run":"a","dose":0.13,"vol":25},
{"panel":2,"organ":"Trachea","type":"Delivered","run":"a","dose":0.18,"vol":8},
{"panel":2,"organ":"Trachea","type":"Delivered","run":"a","dose":0.23,"vol":2},
{"panel":2,"organ":"Trachea","type":"Delivered","run":"a","dose":0.28,"vol":0},
{"panel":2,"organ":"Trachea","type":"Planned","run":"p","dose":0,"vol":100},
{"panel":2,"organ":"Trachea","type":"Planned","run":"p","dose":0.05,"vol":97},
{"panel":2,"organ":"Trachea","type":"Planned","run":"p","dose":0.1,"vol":60},
{"panel":2,"organ":"Trachea","type":"Planned","run":"p","dose":0.15,"vol":25},
{"panel":2,"organ":"Trachea","type":"Planned","run":"p","dose":0.2,"vol":8},
{"panel":2,"organ":"Trachea","type":"Planned","run":"p","dose":0.25,"vol":2},
{"panel":2,"organ":"Trachea","type":"Planned","run":"p","dose":0.3,"vol":0},
{"panel":2,"organ":"Trachea","type":"Planned","run":"p","dose":23.6,"vol":0},
{"panel":2,"organ":"Heart","type":"Delivered","run":"a","dose":0,"vol":100},
{"panel":2,"organ":"Heart","type":"Delivered","run":"a","dose":0.03,"vol":98},
{"panel":2,"organ":"Heart","type":"Delivered","run":"a","dose":0.16,"vol":90},
{"panel":2,"organ":"Heart","type":"Delivered","run":"a","dose":0.4,"vol":80},
{"panel":2,"organ":"Heart","type":"Delivered","run":"a","dose":0.87,"vol":70},
{"panel":2,"organ":"Heart","type":"Delivered","run":"a","dose":1.11,"vol":60},
{"panel":2,"organ":"Heart","type":"Delivered","run":"a","dose":1.27,"vol":50},
{"panel":2,"organ":"Heart","type":"Delivered","run":"a","dose":1.43,"vol":40},
{"panel":2,"organ":"Heart","type":"Delivered","run":"a","dose":1.59,"vol":30},
{"panel":2,"organ":"Heart","type":"Delivered","run":"a","dose":1.83,"vol":20},
{"panel":2,"organ":"Heart","type":"Delivered","run":"a","dose":2.46,"vol":10},
{"panel":2,"organ":"Heart","type":"Delivered","run":"a","dose":3.1,"vol":5},
{"panel":2,"organ":"Heart","type":"Delivered","run":"a","dose":4.05,"vol":2},
{"panel":2,"organ":"Heart","type":"Delivered","run":"a","dose":4.6,"vol":0.6},
{"panel":2,"organ":"Heart","type":"Delivered","run":"a","dose":5.0,"vol":0},
{"panel":2,"organ":"Heart","type":"Planned","run":"p","dose":0,"vol":100},
{"panel":2,"organ":"Heart","type":"Planned","run":"p","dose":0.08,"vol":99},
{"panel":2,"organ":"Heart","type":"Planned","run":"p","dose":0.24,"vol":95},
{"panel":2,"organ":"Heart","type":"Planned","run":"p","dose":0.4,"vol":90},
{"panel":2,"organ":"Heart","type":"Planned","run":"p","dose":0.63,"vol":80},
{"panel":2,"organ":"Heart","type":"Planned","run":"p","dose":0.9,"vol":70},
{"panel":2,"organ":"Heart","type":"Planned","run":"p","dose":1.19,"vol":60},
{"panel":2,"organ":"Heart","type":"Planned","run":"p","dose":1.35,"vol":50},
{"panel":2,"organ":"Heart","type":"Planned","run":"p","dose":1.51,"vol":40},
{"panel":2,"organ":"Heart","type":"Planned","run":"p","dose":1.67,"vol":30},
{"panel":2,"organ":"Heart","type":"Planned","run":"p","dose":1.9,"vol":20},
{"panel":2,"organ":"Heart","type":"Planned","run":"p","dose":2.38,"vol":10},
{"panel":2,"organ":"Heart","type":"Planned","run":"p","dose":2.94,"vol":5},
{"panel":2,"organ":"Heart","type":"Planned","run":"p","dose":3.73,"vol":2},
{"panel":2,"organ":"Heart","type":"Planned","run":"p","dose":4.4,"vol":0.6},
{"panel":2,"organ":"Heart","type":"Planned","run":"p","dose":4.92,"vol":0},
{"panel":2,"organ":"PTV","type":"Delivered","run":"a","dose":0,"vol":100},
{"panel":2,"organ":"PTV","type":"Delivered","run":"a","dose":15.9,"vol":100},
{"panel":2,"organ":"PTV","type":"Delivered","run":"a","dose":16.5,"vol":99.3},
{"panel":2,"organ":"PTV","type":"Delivered","run":"a","dose":17.0,"vol":97.5},
{"panel":2,"organ":"PTV","type":"Delivered","run":"a","dose":17.3,"vol":95},
{"panel":2,"organ":"PTV","type":"Delivered","run":"a","dose":17.87,"vol":90},
{"panel":2,"organ":"PTV","type":"Delivered","run":"a","dose":18.5,"vol":80},
{"panel":2,"organ":"PTV","type":"Delivered","run":"a","dose":18.9,"vol":70},
{"panel":2,"organ":"PTV","type":"Delivered","run":"a","dose":19.2,"vol":60},
{"panel":2,"organ":"PTV","type":"Delivered","run":"a","dose":19.4,"vol":50},
{"panel":2,"organ":"PTV","type":"Delivered","run":"a","dose":19.56,"vol":40},
{"panel":2,"organ":"PTV","type":"Delivered","run":"a","dose":19.68,"vol":30},
{"panel":2,"organ":"PTV","type":"Delivered","run":"a","dose":19.9,"vol":20},
{"panel":2,"organ":"PTV","type":"Delivered","run":"a","dose":20.24,"vol":10},
{"panel":2,"organ":"PTV","type":"Delivered","run":"a","dose":20.5,"vol":5},
{"panel":2,"organ":"PTV","type":"Delivered","run":"a","dose":20.72,"vol":2},
{"panel":2,"organ":"PTV","type":"Delivered","run":"a","dose":20.95,"vol":0},
{"panel":2,"organ":"PTV","type":"Delivered","run":"b","dose":0,"vol":100},
{"panel":2,"organ":"PTV","type":"Delivered","run":"b","dose":16.1,"vol":100},
{"panel":2,"organ":"PTV","type":"Delivered","run":"b","dose":16.7,"vol":99.3},
{"panel":2,"organ":"PTV","type":"Delivered","run":"b","dose":17.2,"vol":97.5},
{"panel":2,"organ":"PTV","type":"Delivered","run":"b","dose":17.5,"vol":95},
{"panel":2,"organ":"PTV","type":"Delivered","run":"b","dose":18.05,"vol":90},
{"panel":2,"organ":"PTV","type":"Delivered","run":"b","dose":18.65,"vol":80},
{"panel":2,"organ":"PTV","type":"Delivered","run":"b","dose":19.02,"vol":70},
{"panel":2,"organ":"PTV","type":"Delivered","run":"b","dose":19.3,"vol":60},
{"panel":2,"organ":"PTV","type":"Delivered","run":"b","dose":19.48,"vol":50},
{"panel":2,"organ":"PTV","type":"Delivered","run":"b","dose":19.62,"vol":40},
{"panel":2,"organ":"PTV","type":"Delivered","run":"b","dose":19.74,"vol":30},
{"panel":2,"organ":"PTV","type":"Delivered","run":"b","dose":19.95,"vol":20},
{"panel":2,"organ":"PTV","type":"Delivered","run":"b","dose":20.28,"vol":10},
{"panel":2,"organ":"PTV","type":"Delivered","run":"b","dose":20.55,"vol":5},
{"panel":2,"organ":"PTV","type":"Delivered","run":"b","dose":20.75,"vol":2},
{"panel":2,"organ":"PTV","type":"Delivered","run":"b","dose":20.98,"vol":0},
{"panel":2,"organ":"PTV","type":"Delivered","run":"c","dose":0,"vol":100},
{"panel":2,"organ":"PTV","type":"Delivered","run":"c","dose":16.0,"vol":100},
{"panel":2,"organ":"PTV","type":"Delivered","run":"c","dose":16.6,"vol":99.3},
{"panel":2,"organ":"PTV","type":"Delivered","run":"c","dose":17.1,"vol":97.5},
{"panel":2,"organ":"PTV","type":"Delivered","run":"c","dose":17.4,"vol":95},
{"panel":2,"organ":"PTV","type":"Delivered","run":"c","dose":17.95,"vol":90},
{"panel":2,"organ":"PTV","type":"Delivered","run":"c","dose":18.57,"vol":80},
{"panel":2,"organ":"PTV","type":"Delivered","run":"c","dose":18.96,"vol":70},
{"panel":2,"organ":"PTV","type":"Delivered","run":"c","dose":19.25,"vol":60},
{"panel":2,"organ":"PTV","type":"Delivered","run":"c","dose":19.44,"vol":50},
{"panel":2,"organ":"PTV","type":"Delivered","run":"c","dose":19.59,"vol":40},
{"panel":2,"organ":"PTV","type":"Delivered","run":"c","dose":19.71,"vol":30},
{"panel":2,"organ":"PTV","type":"Delivered","run":"c","dose":19.92,"vol":20},
{"panel":2,"organ":"PTV","type":"Delivered","run":"c","dose":20.26,"vol":10},
{"panel":2,"organ":"PTV","type":"Delivered","run":"c","dose":20.52,"vol":5},
{"panel":2,"organ":"PTV","type":"Delivered","run":"c","dose":20.73,"vol":2},
{"panel":2,"organ":"PTV","type":"Delivered","run":"c","dose":20.96,"vol":0},
{"panel":2,"organ":"PTV","type":"Planned","run":"p","dose":0,"vol":100},
{"panel":2,"organ":"PTV","type":"Planned","run":"p","dose":17.1,"vol":100},
{"panel":2,"organ":"PTV","type":"Planned","run":"p","dose":17.4,"vol":99},
{"panel":2,"organ":"PTV","type":"Planned","run":"p","dose":17.7,"vol":97.5},
{"panel":2,"organ":"PTV","type":"Planned","run":"p","dose":18.0,"vol":95},
{"panel":2,"organ":"PTV","type":"Planned","run":"p","dose":18.35,"vol":90},
{"panel":2,"organ":"PTV","type":"Planned","run":"p","dose":18.82,"vol":80},
{"panel":2,"organ":"PTV","type":"Planned","run":"p","dose":19.13,"vol":70},
{"panel":2,"organ":"PTV","type":"Planned","run":"p","dose":19.34,"vol":60},
{"panel":2,"organ":"PTV","type":"Planned","run":"p","dose":19.53,"vol":50},
{"panel":2,"organ":"PTV","type":"Planned","run":"p","dose":19.68,"vol":40},
{"panel":2,"organ":"PTV","type":"Planned","run":"p","dose":19.84,"vol":30},
{"panel":2,"organ":"PTV","type":"Planned","run":"p","dose":20.08,"vol":20},
{"panel":2,"organ":"PTV","type":"Planned","run":"p","dose":20.38,"vol":10},
{"panel":2,"organ":"PTV","type":"Planned","run":"p","dose":20.6,"vol":5},
{"panel":2,"organ":"PTV","type":"Planned","run":"p","dose":20.75,"vol":2},
{"panel":2,"organ":"PTV","type":"Planned","run":"p","dose":20.95,"vol":0},
{"panel":2,"organ":"Spinal cord","type":"Delivered","run":"a","dose":0,"vol":100},
{"panel":2,"organ":"Spinal cord","type":"Delivered","run":"a","dose":0.04,"vol":90},
{"panel":2,"organ":"Spinal cord","type":"Delivered","run":"a","dose":0.08,"vol":70},
{"panel":2,"organ":"Spinal cord","type":"Delivered","run":"a","dose":0.1,"vol":55},
{"panel":2,"organ":"Spinal cord","type":"Delivered","run":"a","dose":0.13,"vol":40},
{"panel":2,"organ":"Spinal cord","type":"Delivered","run":"a","dose":0.16,"vol":35},
{"panel":2,"organ":"Spinal cord","type":"Delivered","run":"a","dose":0.4,"vol":30},
{"panel":2,"organ":"Spinal cord","type":"Delivered","run":"a","dose":0.71,"vol":25},
{"panel":2,"organ":"Spinal cord","type":"Delivered","run":"a","dose":1.11,"vol":20},
{"panel":2,"organ":"Spinal cord","type":"Delivered","run":"a","dose":1.5,"vol":17},
{"panel":2,"organ":"Spinal cord","type":"Delivered","run":"a","dose":1.98,"vol":16},
{"panel":2,"organ":"Spinal cord","type":"Delivered","run":"a","dose":2.14,"vol":15},
{"panel":2,"organ":"Spinal cord","type":"Delivered","run":"a","dose":2.3,"vol":10},
{"panel":2,"organ":"Spinal cord","type":"Delivered","run":"a","dose":2.45,"vol":5},
{"panel":2,"organ":"Spinal cord","type":"Delivered","run":"a","dose":2.53,"vol":2},
{"panel":2,"organ":"Spinal cord","type":"Delivered","run":"a","dose":2.59,"vol":0},
{"panel":2,"organ":"Spinal cord","type":"Delivered","run":"b","dose":0,"vol":100},
{"panel":2,"organ":"Spinal cord","type":"Delivered","run":"b","dose":0.04,"vol":90},
{"panel":2,"organ":"Spinal cord","type":"Delivered","run":"b","dose":0.08,"vol":70},
{"panel":2,"organ":"Spinal cord","type":"Delivered","run":"b","dose":0.11,"vol":55},
{"panel":2,"organ":"Spinal cord","type":"Delivered","run":"b","dose":0.15,"vol":40},
{"panel":2,"organ":"Spinal cord","type":"Delivered","run":"b","dose":0.2,"vol":35},
{"panel":2,"organ":"Spinal cord","type":"Delivered","run":"b","dose":0.5,"vol":30},
{"panel":2,"organ":"Spinal cord","type":"Delivered","run":"b","dose":0.85,"vol":25},
{"panel":2,"organ":"Spinal cord","type":"Delivered","run":"b","dose":1.25,"vol":20},
{"panel":2,"organ":"Spinal cord","type":"Delivered","run":"b","dose":1.6,"vol":17},
{"panel":2,"organ":"Spinal cord","type":"Delivered","run":"b","dose":2.0,"vol":16},
{"panel":2,"organ":"Spinal cord","type":"Delivered","run":"b","dose":2.16,"vol":15},
{"panel":2,"organ":"Spinal cord","type":"Delivered","run":"b","dose":2.31,"vol":10},
{"panel":2,"organ":"Spinal cord","type":"Delivered","run":"b","dose":2.46,"vol":5},
{"panel":2,"organ":"Spinal cord","type":"Delivered","run":"b","dose":2.54,"vol":2},
{"panel":2,"organ":"Spinal cord","type":"Delivered","run":"b","dose":2.6,"vol":0},
{"panel":2,"organ":"Spinal cord","type":"Planned","run":"p","dose":0,"vol":100},
{"panel":2,"organ":"Spinal cord","type":"Planned","run":"p","dose":0.05,"vol":90},
{"panel":2,"organ":"Spinal cord","type":"Planned","run":"p","dose":0.1,"vol":70},
{"panel":2,"organ":"Spinal cord","type":"Planned","run":"p","dose":0.14,"vol":55},
{"panel":2,"organ":"Spinal cord","type":"Planned","run":"p","dose":0.2,"vol":45},
{"panel":2,"organ":"Spinal cord","type":"Planned","run":"p","dose":0.26,"vol":40},
{"panel":2,"organ":"Spinal cord","type":"Planned","run":"p","dose":0.48,"vol":35},
{"panel":2,"organ":"Spinal cord","type":"Planned","run":"p","dose":0.71,"vol":30},
{"panel":2,"organ":"Spinal cord","type":"Planned","run":"p","dose":1.0,"vol":25},
{"panel":2,"organ":"Spinal cord","type":"Planned","run":"p","dose":1.32,"vol":20},
{"panel":2,"organ":"Spinal cord","type":"Planned","run":"p","dose":1.67,"vol":17},
{"panel":2,"organ":"Spinal cord","type":"Planned","run":"p","dose":2.06,"vol":15},
{"panel":2,"organ":"Spinal cord","type":"Planned","run":"p","dose":2.3,"vol":10},
{"panel":2,"organ":"Spinal cord","type":"Planned","run":"p","dose":2.46,"vol":5},
{"panel":2,"organ":"Spinal cord","type":"Planned","run":"p","dose":2.55,"vol":2},
{"panel":2,"organ":"Spinal cord","type":"Planned","run":"p","dose":2.62,"vol":0},
{"panel":2,"organ":"Spinal cord","type":"Planned","run":"p","dose":23.6,"vol":0}
],
"labels": [
{"panel":1,"organ":"Heart","dose":1.42,"vol":70},
{"panel":1,"organ":"Spinal cord","dose":1.42,"vol":55},
{"panel":1,"organ":"Trachea","dose":1.42,"vol":40},
{"panel":1,"organ":"Lung","dose":1.42,"vol":25},
{"panel":1,"organ":"PTV","dose":6.71,"vol":70},
{"panel":1,"organ":"GTV","dose":8.31,"vol":70},
{"panel":2,"organ":"Heart","dose":3.01,"vol":70},
{"panel":2,"organ":"Spinal cord","dose":3.01,"vol":55},
{"panel":2,"organ":"Trachea","dose":3.01,"vol":40},
{"panel":2,"organ":"Lung","dose":3.01,"vol":25},
{"panel":2,"organ":"PTV","dose":16.06,"vol":70},
{"panel":2,"organ":"GTV","dose":21.09,"vol":70}
],
"arrows": [
{"panel":1,"dir":"up","dose":6.75,"vol":99.3,"vol2":89},
{"panel":1,"dir":"up","dose":7.5,"vol":95.6,"vol2":85},
{"panel":1,"dir":"down","dose":2.5,"vol":14.9,"vol2":25.3},
{"panel":2,"dir":"up","dose":16.2,"vol":98.9,"vol2":89},
{"panel":2,"dir":"up","dose":18.06,"vol":94.7,"vol2":85},
{"panel":2,"dir":"down","dose":6.63,"vol":14.7,"vol2":24.8}
]
},
"hconcat": [
{
  "width": 510, "height": 396,
  "title": "Patient 1 (fractions 1, 2, 4 and 8)",
  "encoding": {
    "x": {"field": "dose", "type": "quantitative", "scale": {"domain": [0, 9.2], "nice": false, "zero": false},
          "axis": {"values": [0,1,2,3,4,5,6,7,8,9], "title": "Dose per fraction [Gy]"}},
    "y": {"field": "vol", "type": "quantitative", "scale": {"domain": [0, 100], "nice": false},
          "axis": {"values": [0,10,20,30,40,50,60,70,80,90,100], "title": "Percentage volume [%]"}}
  },
  "layer": [
    {"data": {"name": "curves"}, "transform": [{"filter": "datum.panel == 1 && datum.type == 'Delivered'"}],
     "mark": {"type": "line", "interpolate": "monotone", "clip": true},
     "encoding": {
       "color": {"field": "organ", "type": "nominal", "legend": null,
                 "scale": {"domain": ["GTV","PTV","Lung","Trachea","Heart","Spinal cord"], "range": ["#3a3a3a","#ff5050","#3c3cff","#ff55ff","#33e633","#777777"]}},
       "detail": {"field": "run"},
       "strokeDash": {"field": "type", "type": "nominal", "scale": {"domain": ["Planned","Delivered"], "range": [[7,4],[1,0]]}},
       "strokeWidth": {"field": "type", "type": "nominal", "scale": {"type": "ordinal", "domain": ["Planned","Delivered"], "range": [2.2, 1]}}
     }},
    {"data": {"name": "curves"}, "transform": [{"filter": "datum.panel == 1 && datum.type == 'Planned'"}],
     "mark": {"type": "line", "interpolate": "monotone", "clip": true},
     "encoding": {
       "color": {"field": "organ", "type": "nominal", "legend": null,
                 "scale": {"domain": ["GTV","PTV","Lung","Trachea","Heart","Spinal cord"], "range": ["#000000","#ff0000","#0000ff","#ff00ff","#00e600","#808080"]}},
       "detail": {"field": "run"},
       "strokeDash": {"field": "type", "type": "nominal", "scale": {"domain": ["Planned","Delivered"], "range": [[7,4],[1,0]]}},
       "strokeWidth": {"field": "type", "type": "nominal", "scale": {"type": "ordinal", "domain": ["Planned","Delivered"], "range": [2.2, 1]}}
     }},
    {"data": {"name": "arrows"}, "transform": [{"filter": "datum.panel == 1"}],
     "mark": {"type": "rule", "color": "black", "strokeWidth": 1.5},
     "encoding": {"y2": {"field": "vol2"}}},
    {"data": {"name": "arrows"}, "transform": [{"filter": "datum.panel == 1"}],
     "mark": {"type": "point", "filled": false, "stroke": "black", "strokeWidth": 1.5, "size": 49, "opacity": 1},
     "encoding": {"shape": {"field": "dir", "type": "nominal", "legend": null,
       "scale": {"domain": ["up","down"], "range": ["M-1,1.4L0,0L1,1.4", "M-1,-1.4L0,0L1,-1.4"]}}}},
    {"data": {"name": "labels"}, "transform": [{"filter": "datum.panel == 1"}],
     "mark": {"type": "text", "align": "left", "baseline": "middle", "fontSize": 16, "fontWeight": "bold", "font": "Liberation Sans"},
     "encoding": {"text": {"field": "organ"},
       "color": {"field": "organ", "type": "nominal", "legend": null,
                 "scale": {"domain": ["GTV","PTV","Lung","Trachea","Heart","Spinal cord"], "range": ["#000000","#ff0000","#0000ff","#ff00ff","#22e022","#808080"]}}}}
  ],
  "resolve": {"scale": {"color": "independent"}}
},
{
  "width": 500, "height": 396,
  "title": "Patient 2 (fractions 1, 2 and 3)",
  "encoding": {
    "x": {"field": "dose", "type": "quantitative", "scale": {"domain": [0, 23.64], "nice": false, "zero": false},
          "axis": {"values": [0,5,10,15,20], "title": "Dose per fraction [Gy]"}},
    "y": {"field": "vol", "type": "quantitative", "scale": {"domain": [0, 100], "nice": false},
          "axis": {"values": [0,10,20,30,40,50,60,70,80,90,100], "title": "Percentage volume [%]"}}
  },
  "layer": [
    {"data": {"name": "curves"}, "transform": [{"filter": "datum.panel == 2 && datum.type == 'Delivered'"}],
     "mark": {"type": "line", "interpolate": "monotone", "clip": true},
     "encoding": {
       "color": {"field": "organ", "type": "nominal", "legend": null,
                 "scale": {"domain": ["GTV","PTV","Lung","Trachea","Heart","Spinal cord"], "range": ["#505050","#ff5050","#3c3cff","#ff55ff","#33e633","#777777"]}},
       "detail": {"field": "run"},
       "strokeDash": {"field": "type", "type": "nominal", "scale": {"domain": ["Planned","Delivered"], "range": [[7,4],[1,0]]}},
       "strokeWidth": {"field": "type", "type": "nominal", "scale": {"type": "ordinal", "domain": ["Planned","Delivered"], "range": [2.2, 1]}}
     }},
    {"data": {"name": "curves"}, "transform": [{"filter": "datum.panel == 2 && datum.type == 'Planned'"}],
     "mark": {"type": "line", "interpolate": "monotone", "clip": true},
     "encoding": {
       "color": {"field": "organ", "type": "nominal", "legend": null,
                 "scale": {"domain": ["GTV","PTV","Lung","Trachea","Heart","Spinal cord"], "range": ["#000000","#ff0000","#0000ff","#ff00ff","#00e600","#808080"]}},
       "detail": {"field": "run"},
       "strokeDash": {"field": "type", "type": "nominal", "scale": {"domain": ["Planned","Delivered"], "range": [[7,4],[1,0]]}},
       "strokeWidth": {"field": "type", "type": "nominal", "scale": {"type": "ordinal", "domain": ["Planned","Delivered"], "range": [2.2, 1]}}
     }},
    {"data": {"name": "arrows"}, "transform": [{"filter": "datum.panel == 2"}],
     "mark": {"type": "rule", "color": "black", "strokeWidth": 1.5},
     "encoding": {"y2": {"field": "vol2"}}},
    {"data": {"name": "arrows"}, "transform": [{"filter": "datum.panel == 2"}],
     "mark": {"type": "point", "filled": false, "stroke": "black", "strokeWidth": 1.5, "size": 49, "opacity": 1},
     "encoding": {"shape": {"field": "dir", "type": "nominal", "legend": null,
       "scale": {"domain": ["up","down"], "range": ["M-1,1.4L0,0L1,1.4", "M-1,-1.4L0,0L1,-1.4"]}}}},
    {"data": {"name": "labels"}, "transform": [{"filter": "datum.panel == 2"}],
     "mark": {"type": "text", "align": "left", "baseline": "middle", "fontSize": 16, "fontWeight": "bold", "font": "Liberation Sans"},
     "encoding": {"text": {"field": "organ"},
       "color": {"field": "organ", "type": "nominal", "legend": null,
                 "scale": {"domain": ["GTV","PTV","Lung","Trachea","Heart","Spinal cord"], "range": ["#000000","#ff0000","#0000ff","#ff00ff","#22e022","#808080"]}}}}
  ],
  "resolve": {"scale": {"color": "independent"}}
}
]
}
